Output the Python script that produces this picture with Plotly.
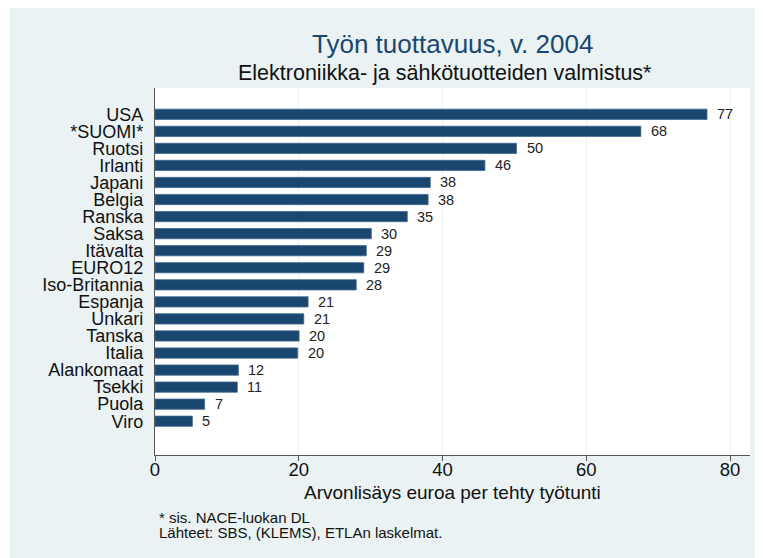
import plotly.graph_objects as go

countries = ["USA", "*SUOMI*", "Ruotsi", "Irlanti", "Japani", "Belgia", "Ranska",
             "Saksa", "Itävalta", "EURO12", "Iso-Britannia", "Espanja", "Unkari",
             "Tanska", "Italia", "Alankomaat", "Tsekki", "Puola", "Viro"]
values = [76.8, 67.6, 50.3, 45.9, 38.3, 38.0, 35.1, 30.1, 29.4, 29.05, 28.0,
          21.3, 20.7, 20.05, 19.85, 11.6, 11.45, 6.9, 5.2]
labels = [str(int(round(v))) for v in values]
xticks = [0, 20, 40, 60, 80]

title = "Työn tuottavuus, v. 2004"
subtitle = "Elektroniikka- ja sähkötuotteiden valmistus*"
xtitle = "Arvonlisäys euroa per tehty työtunti"
notes = ["* sis. NACE-luokan DL", "Lähteet: SBS, (KLEMS), ETLAn laskelmat."]

FONT = "Liberation Sans, Arial, sans-serif"
BG = "#EAF2F3"
NAVY = "#1a476f"

# page body has an 8px margin; the figure is offset by it
OFF = 8
W, H = 763, 558
L, T = 155 - OFF, 88 - OFF
R = W - (750 - OFF)
B = H - (455 - OFF)
pw, ph = W - L - R, H - T - B


def px_x(px):
    return (px - OFF - L) / pw


def px_y(py):
    return (H - B - (py - OFF)) / ph


pos = list(range(len(countries)))

fig = go.Figure()
fig.add_trace(go.Bar(
    x=values, y=pos, orientation="h", width=0.6,
    marker=dict(color=NAVY, line=dict(color="#3f6890", width=0.8)),
    hoverinfo="skip",
))

annotations = []
for v, p, lab in zip(values, pos, labels):
    annotations.append(dict(x=v, y=p, xref="x", yref="y", text=lab, showarrow=False,
                            xanchor="left", yanchor="middle", xshift=8,
                            font=dict(family=FONT, size=14.5, color="#222222")))
annotations.append(dict(x=px_x(452), y=px_y(44), xref="paper", yref="paper", text=title,
                        showarrow=False, xanchor="center", yanchor="middle",
                        font=dict(family=FONT, size=26, color=NAVY)))
annotations.append(dict(x=px_x(445), y=px_y(73), xref="paper", yref="paper", text=subtitle,
                        showarrow=False, xanchor="center", yanchor="middle",
                        font=dict(family=FONT, size=21.5, color="#111111")))
annotations.append(dict(x=px_x(452.5), y=px_y(492), xref="paper", yref="paper", text=xtitle,
                        showarrow=False, xanchor="center", yanchor="middle",
                        font=dict(family=FONT, size=19, color="#111111")))
for i, n in enumerate(notes):
    annotations.append(dict(x=px_x(157), y=px_y(517 + 15 * i), xref="paper", yref="paper",
                            text=n, showarrow=False, xanchor="left", yanchor="middle",
                            font=dict(family=FONT, size=15, color="#111111")))

shapes = [
    dict(type="rect", xref="paper", yref="paper", x0=px_x(0), x1=px_x(10),
         y0=px_y(H + 20), y1=px_y(0), fillcolor="white", line=dict(width=0), layer="below"),
]

fig.update_layout(
    width=W, height=H,
    margin=dict(l=L, r=R, t=T, b=B, autoexpand=False),
    paper_bgcolor=BG, plot_bgcolor="white",
    showlegend=False,
    annotations=annotations,
    shapes=shapes,
    font=dict(family=FONT, color="#111111"),
    xaxis=dict(
        range=[0, pw / ((730 - 155) / 80)], tickvals=xticks, ticktext=[str(t) for t in xticks],
        showgrid=True, gridcolor=BG, gridwidth=1, zeroline=False,
        showline=True, linecolor="#555555", linewidth=1.2,
        ticks="outside", ticklen=5, tickcolor="#555555", tickwidth=1.2,
        ticklabelstandoff=-7,
        tickfont=dict(family=FONT, size=18.5, color="#111111"),
        automargin=False, fixedrange=True,
    ),
    yaxis=dict(
        range=[19.98, -1.54], tickvals=pos, ticktext=countries,
        showgrid=False, zeroline=False,
        showline=True, linecolor="#555555", linewidth=1.2,
        ticks="", ticklabelstandoff=7,
        tickfont=dict(family=FONT, size=18, color="#111111"),
        automargin=False, fixedrange=True,
    ),
)

fig.write_html("out.html")
